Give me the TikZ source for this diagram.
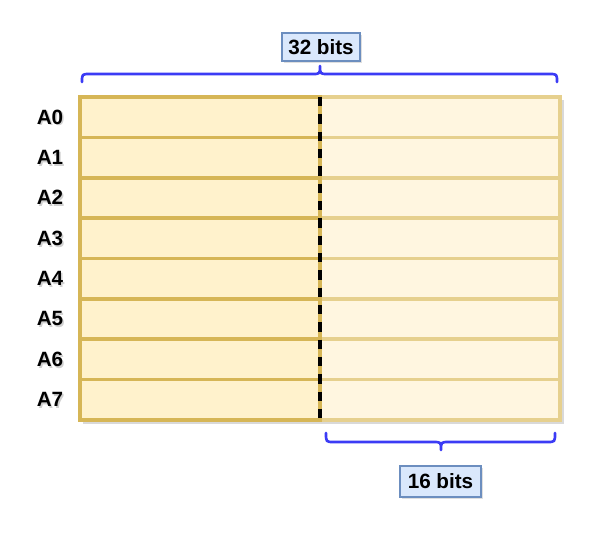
\documentclass[tikz,border=0pt]{standalone}
\usepackage{fontspec}
\setmainfont{Liberation Sans}
\usetikzlibrary{shadows}
\definecolor{lborder}{HTML}{D6B656}
\definecolor{rborder}{HTML}{E6D08E}
\definecolor{lfill}{HTML}{FFF2CC}
\definecolor{rfill}{HTML}{FFF6E0}
\definecolor{bracecol}{HTML}{3B3BF5}
\definecolor{tagfill}{HTML}{DAE8FC}
\definecolor{tagdraw}{HTML}{6C8EBF}
\begin{document}
\begin{tikzpicture}[x=0.75pt,y=-0.75pt,
  lrow/.style={draw=lborder,fill=lfill,line width=2.7pt},
  rrow/.style={draw=rborder,fill=rfill,line width=2.7pt},
  brc/.style={draw=bracecol,line width=2pt,line cap=round,line join=round},
  tag/.style={draw=tagdraw,fill=tagfill,line width=0.8pt,minimum width=78*0.75pt,minimum height=28*0.75pt,inner sep=0pt,font=\fontsize{15.5}{18}\selectfont\bfseries,drop shadow={opacity=0.25,shadow xshift=1.2pt,shadow yshift=-1.2pt}},
  lab/.style={font=\fontsize{15.5}{18}\selectfont\bfseries,inner sep=0pt}]
\useasboundingbox (0,0) rectangle (599,533);
% shadow of the whole block
\fill[black,opacity=0.15] (83,100) rectangle (564,424);
% rows
\foreach \i in {0,...,7}{
  \pgfmathsetmacro{\ya}{97+40.375*\i}
  \pgfmathsetmacro{\yb}{97+40.375*(\i+1)}
  \draw[rrow] (320,\ya) rectangle (560,\yb);
  \draw[lrow] (80,\ya) rectangle (320,\yb);
}
% dashed divider
\coordinate (dt) at (320,97);
\coordinate (db) at (320,420);
\draw[black,line width=2.6pt,dash pattern=on 7pt off 6pt] (dt) -- (db);
% labels
\foreach \i in {0,...,7}{
  \pgfmathsetmacro{\yc}{117+40.375*\i}
  \node[lab,text=black!30,opacity=0.6] at (51.5,\yc+1.8) {A\i};
  \node[lab] (a\i) at (50,\yc) {A\i};
}
% top brace
\draw[brc] (82,82) .. controls (82,74) .. (90,74) -- (312,74)
  .. controls (320,74) .. (320,66) .. controls (320,74) .. (328,74)
  -- (549,74) .. controls (557,74) .. (557,82);
% bottom brace
\draw[brc] (326,433) .. controls (326,442) .. (334,442) -- (433,442)
  .. controls (441,442) .. (441,450) .. controls (441,442) .. (449,442)
  -- (547,442) .. controls (555,442) .. (555,433);
% tags
\node[tag] (t32) at (321,47) {32 bits};
\node[tag,minimum width=81*0.75pt,minimum height=31*0.75pt] (t16) at (440.5,481.5) {16 bits};
\end{tikzpicture}
\end{document}
